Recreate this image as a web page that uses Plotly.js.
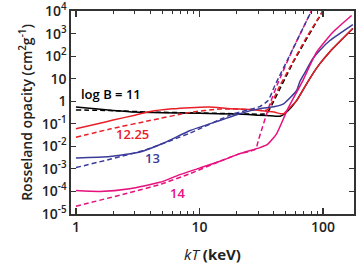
<!DOCTYPE html>
<html>
<head>
<meta charset="utf-8">
<script src="https://cdn.plot.ly/plotly-3.0.1.min.js"></script>
<style>html,body{margin:0;padding:0;background:#fff;}#chart{width:360px;height:267px;}</style>
</head>
<body>
<div id="chart"></div>
<script>
// kT (keV) and Rosseland opacity (cm^2 g^-1)
// log B = 11
const T_b11_solid = [1, 1.5, 2, 3, 5, 10, 20, 30, 40, 45, 52, 61, 71.3, 82.7, 94.2, 113.5, 174];
const k_b11_solid = [0.55, 0.45, 0.39, 0.33, 0.305, 0.29, 0.27, 0.24, 0.22, 0.215, 0.38, 1.07, 4.5, 17, 47, 160, 1700];
const T_b11_dash  = [1, 1.88, 3.97, 10.1, 25.6, 33.2, 35.5, 38.6, 57.3, 100];
const k_b11_dash  = [0.41, 0.386, 0.33, 0.30, 0.27, 0.27, 0.32, 0.71, 54, 10700];
// log B = 12.25
const T_b1225_solid = [1, 1.5, 2, 3, 4, 6, 8.4, 12, 17.6, 25, 30.6, 40, 45, 48, 52, 61, 71.3, 82.7, 94.2, 113.5, 174];
const k_b1225_solid = [0.06, 0.10, 0.146, 0.24, 0.35, 0.46, 0.52, 0.55, 0.47, 0.43, 0.39, 0.33, 0.28, 0.28, 0.43, 1.07, 4.5, 17, 47, 160, 1700];
const T_b1225_dash  = [1, 1.88, 3.97, 8.4, 14.6, 25.6, 33.8, 36, 44.8, 53.9, 73.5, 100];
const k_b1225_dash  = [0.025, 0.058, 0.139, 0.32, 0.45, 0.43, 0.39, 0.45, 5.0, 32.5, 699, 10700];
// log B = 13
const T_b13_solid = [1, 1.88, 3.29, 5.25, 8.4, 14.6, 21.2, 30.7, 40.7, 48.2, 61.1, 64.9, 71.3, 82.7, 94.2, 113.5, 174];
const k_b13_solid = [3.0e-3, 3.5e-3, 5.5e-3, 0.0146, 0.05, 0.139, 0.28, 0.47, 0.58, 0.79, 3.0, 7.5, 18.9, 79, 185, 499, 2560];
const T_b13_dash  = [1, 3.5, 8.4, 18.6, 30.7, 35.9, 40.7, 57, 80.7];
const k_b13_dash  = [1.13e-3, 6.4e-3, 0.039, 0.27, 0.58, 1.07, 5, 213, 10700];
// log B = 14
const T_b14_solid = [1, 1.56, 2.73, 4.78, 6.93, 10, 14.6, 21.2, 30.8, 35.7, 42, 51.9, 68.6, 88.5, 120, 170];
const k_b14_solid = [1.07e-4, 9.8e-5, 1.3e-4, 2.5e-4, 5.5e-4, 1.07e-3, 2.15e-3, 4.7e-3, 8.7e-3, 0.0125, 0.0356, 0.47, 8.3, 151, 1166, 6440];
const T_b14_dash  = [1, 2.73, 4.78, 8.4, 14.6, 21.2, 25.6, 28.5, 29.9, 37.2, 42.3, 57, 80.7];
const k_b14_dash  = [2.15e-5, 8.75e-5, 2.0e-4, 6.1e-4, 2.15e-3, 4.7e-3, 6.0e-3, 7.5e-3, 0.018, 0.79, 5.0, 213, 10700];

const yTickVals = [1e-5, 1e-4, 1e-3, 1e-2, 1e-1, 1, 10, 100, 1000, 10000];
const yTickText = ['10<sup>-5</sup>', '10<sup>-4</sup>', '10<sup>-3</sup>', '10<sup>-2</sup>', '10<sup>-1</sup>', '1', '10', '10<sup>2</sup>', '10<sup>3</sup>', '10<sup>4</sup>'];
const xTickVals = [1, 10, 100];
const xTickText = ['1', '10', '100'];

const labels = [
  {text: 'log B = 11', x: 1.92, y: 2.2, color: '#000000'},
  {text: '12.25', x: 2.89, y: 0.0366, color: '#e8202a'},
  {text: '13', x: 4.2, y: 0.003, color: '#3b3b9a'},
  {text: '14', x: 6.62, y: 8.3e-5, color: '#e6107f'}
];

const RED = '#e8202a', BLUE = '#3b3b9a', MAG = '#e6107f', BLK = '#000000';
function tr(x, y, color, dash) {
  return {x: x, y: y, type: 'scatter', mode: 'lines',
    line: {color: color, width: 1.5, dash: dash ? '5px,3px' : 'solid', shape: 'spline', smoothing: 0.5},
    hoverinfo: 'skip', showlegend: false};
}
const data = [
  tr(T_b11_solid, k_b11_solid, BLK, false),
  tr(T_b11_dash, k_b11_dash, BLK, true),
  tr(T_b1225_solid, k_b1225_solid, RED, false),
  tr(T_b1225_dash, k_b1225_dash, RED, true),
  tr(T_b14_dash, k_b14_dash, MAG, true),
  tr(T_b13_dash, k_b13_dash, BLUE, true),
  tr(T_b13_solid, k_b13_solid, BLUE, false),
  tr(T_b14_solid, k_b14_solid, MAG, false)
];

const FONT = '"Open Sans", sans-serif';
const layout = {
  width: 360, height: 267,
  margin: {l: 71, r: 6, t: 11, b: 53},
  paper_bgcolor: '#ffffff', plot_bgcolor: '#ffffff',
  font: {family: FONT, size: 14, color: '#222222', weight: 600},
  xaxis: {
    type: 'log', range: [-0.04, 2.25],
    tickvals: xTickVals, ticktext: xTickText,
    ticks: 'inside', ticklen: 6, tickwidth: 1.3, tickcolor: '#333',
    showline: true, linecolor: '#333', linewidth: 1.6, mirror: 'ticks',
    showgrid: false, zeroline: false,
    tickfont: {family: FONT, size: 14, color: '#222', weight: 600},
    minor: {ticks: 'inside', ticklen: 3, tickwidth: 1, tickcolor: '#333', dtick: 'D1', showgrid: false},
    title: {text: '<i>kT</i> <b>(keV)</b>', font: {family: FONT, size: 15, color: '#222', weight: 400}, standoff: 14}
  },
  yaxis: {
    type: 'log', range: [-5.01, 4.01],
    tickvals: yTickVals, ticktext: yTickText,
    ticks: 'inside', ticklen: 5, tickwidth: 1.3, tickcolor: '#333',
    showline: true, linecolor: '#333', linewidth: 1.6, mirror: 'ticks',
    showgrid: false, zeroline: false,
    tickfont: {family: FONT, size: 14, color: '#222', weight: 600},
    title: {text: 'Rosseland opacity (cm<sup>2</sup>g<sup>-1</sup>)', font: {family: FONT, size: 14, color: '#222', weight: 600}, standoff: 6}
  },
  annotations: labels.map(l => ({
    text: l.text, x: Math.log10(l.x), y: Math.log10(l.y), xref: 'x', yref: 'y',
    showarrow: false, font: {family: FONT, size: 13, color: l.color, weight: 600}
  }))
};
Plotly.newPlot('chart', data, layout, {staticPlot: true, displayModeBar: false});
</script>
</body>
</html>
